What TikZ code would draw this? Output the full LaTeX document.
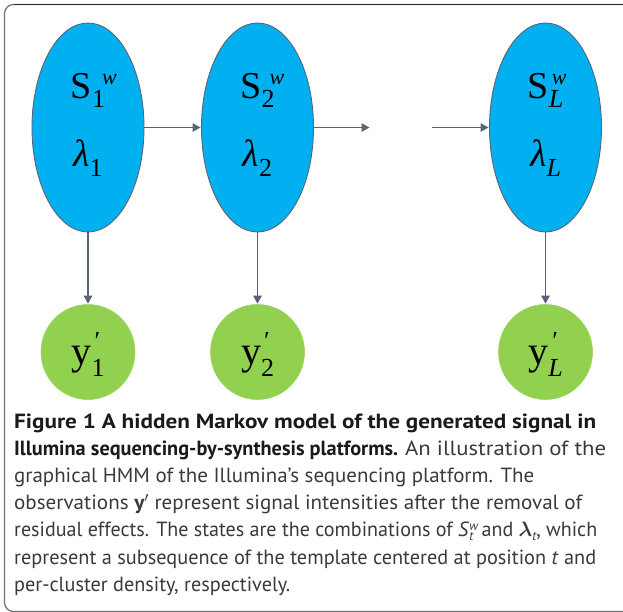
\documentclass[tikz,border=0pt]{standalone}
\usepackage{fontspec}
\usepackage{amsmath}
\usepackage{graphicx}
\setmainfont{PT Sans}
\newfontfamily\tms{Liberation Serif}
\usetikzlibrary{arrows.meta,shapes.geometric}
\definecolor{blfill}{HTML}{00B0F0}
\definecolor{grfill}{HTML}{92D050}
\definecolor{edgec}{HTML}{5A6377}
\definecolor{framec}{HTML}{707070}
\definecolor{frametop}{HTML}{333333}
\definecolor{capbold}{HTML}{1A1A1A}
\definecolor{captext}{HTML}{3A3A3A}
\newcommand\Sw[2]{{\tms\fontsize{38}{38}\selectfont S\rlap{\kern#2\raisebox{14pt}{\fontsize{22}{22}\selectfont\itshape w}}\raisebox{-9pt}{\fontsize{26}{26}\selectfont #1}}}
\newcommand\Lam[1]{{\tms\fontsize{38}{38}\selectfont{\itshape λ}\raisebox{-10pt}{\fontsize{26}{26}\selectfont #1}}}
\newcommand\Yp[2]{{\tms\fontsize{40}{40}\selectfont y\rlap{\kern#2\raisebox{15pt}{\fontsize{26}{26}\selectfont ′}}\raisebox{-12pt}{\fontsize{26}{26}\selectfont #1}}}
\newcommand\capSt{\textit{S}\rlap{\raisebox{6pt}{\fontsize{13}{13}\selectfont\itshape w}}\raisebox{-4pt}{\fontsize{13}{13}\selectfont\itshape t}\kern3pt}
\newcommand\capLt{$\boldsymbol{\lambda}$\raisebox{-4pt}{\fontsize{13}{13}\selectfont\itshape t}}
\newcommand\fitw[2]{\resizebox{#1}{\height}{#2}}
\begin{document}
\begin{tikzpicture}[x=1pt,y=-1pt,
  state/.style={ellipse,draw=edgec,line width=0.9pt,fill=blfill,minimum width=112pt,minimum height=209pt,inner sep=0pt},
  obs/.style={ellipse,draw=grfill!90!white,line width=0.6pt,fill=grfill,minimum width=94pt,minimum height=95pt,inner sep=0pt},
  arr/.style={draw=edgec,line width=1.3pt,-{Triangle[length=8pt,width=8.5pt]},shorten >=0.5pt},
  lbl/.style={anchor=base,inner sep=0pt},
  capline/.style={anchor=base west,inner sep=0pt,text=captext,font=\fontsize{20.5}{25}\selectfont}]
\useasboundingbox (0,0) rectangle (623,612);
\clip (0,0) rectangle (623,612);
\fill[white] (0,0) rectangle (623,612);
\draw[framec,line width=1.2pt,rounded corners=9pt] (4.5,4.5) rectangle (660,611.5);
\draw[frametop,line width=1.6pt] (14,4.5) -- (623,4.5);

\node[state] (e1) at (88,127.5) {};
\node[state] (e2) at (257.5,127.5) {};
\node[state] (e3) at (545.5,127.5) {};
\node[obs] (g1) at (88,352) {};
\node[obs] (g2) at (257.5,352) {};
\node[obs] (g3) at (545.5,352) {};

\node[lbl] (s1) at (88,99) {\Sw{1}{10pt}};
\node[lbl] (s2) at (257.5,99) {\Sw{2}{8pt}};
\node[lbl] (s3) at (545.5,99) {\Sw{\itshape L}{3pt}};
\node[lbl] (l1) at (88,167) {\Lam{1}};
\node[lbl] (l2) at (257.5,167) {\Lam{2}};
\node[lbl] (l3) at (545.5,167) {\Lam{\itshape L}};
\node[lbl] (y1) at (88,364) {\Yp{1}{3pt}};
\node[lbl] (y2) at (257.5,364) {\Yp{2}{3pt}};
\node[lbl] (y3) at (545.5,364) {\Yp{\itshape L}{4pt}};

\coordinate (gapL) at (370,127.5);
\coordinate (gapR) at (432,127.5);
\draw[arr] (e1) -- (e2);
\draw[arr] (e2) -- (gapL);
\draw[arr] (gapR) -- (e3);
\draw[arr] (e1) -- (g1);
\draw[arr] (e2) -- (g2);
\draw[arr] (e3) -- (g3);

\node[capline] (c1) at (14,428) {\fitw{582pt}{\textcolor{capbold}{\bfseries Figure 1 A hidden Markov model of the generated signal in}}};
\node[capline] (c2a) at (14,455.2) {\fitw{384pt}{\textcolor{capbold}{\bfseries Illumina sequencing-by-synthesis platforms.}}};
\node[capline] (c2b) at (405,455.2) {\fitw{201pt}{An illustration of the}};
\node[capline] (c3) at (14,482.4) {\fitw{520pt}{graphical HMM of the Illumina’s sequencing platform. The}};
\node[capline] (c4) at (14,509.6) {\fitw{568pt}{observations $\mathbf{y}'$ represent signal intensities after the removal of}};
\node[capline] (c5) at (14,536.8) {\fitw{583pt}{residual effects. The states are the combinations of \capSt\ and \capLt, which}};
\node[capline] (c6) at (14,564) {\fitw{582pt}{represent a subsequence of the template centered at position \textit{t} and}};
\node[capline] (c7) at (14,591.2) {\fitw{276pt}{per-cluster density, respectively.}};
\end{tikzpicture}
\end{document}
